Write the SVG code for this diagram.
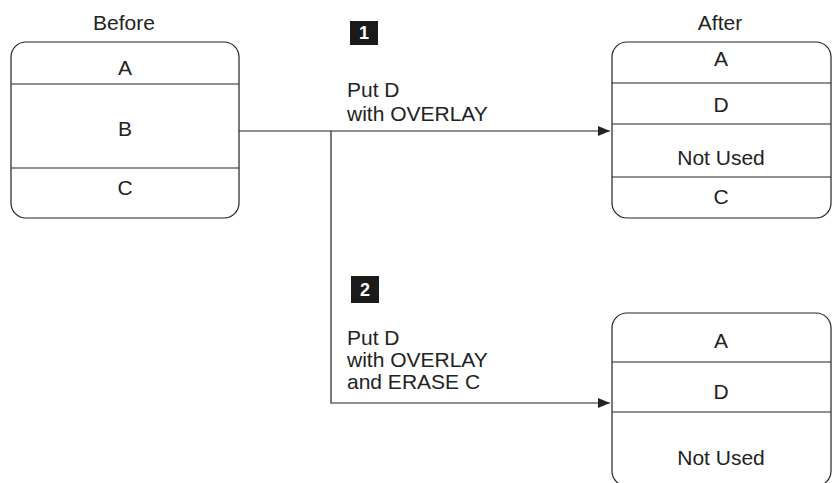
<svg xmlns="http://www.w3.org/2000/svg" width="832" height="483" viewBox="0 0 832 483">
<style>
text{font-family:"Liberation Sans",Arial,sans-serif;font-size:21px;fill:#222}
.c{text-anchor:middle}
.box{fill:#fff;stroke:#222;stroke-width:1.2}
.div{stroke:#222;stroke-width:1.2}
.con{fill:none;stroke:#222;stroke-width:1.2}
.badge{fill:#1a1a1a}
.bt{fill:#fff;font-weight:bold;font-size:18px;text-anchor:middle}
</style>
<defs>
<marker id="arr" viewBox="0 0 12 10" refX="12" refY="5" markerWidth="12" markerHeight="10" markerUnits="userSpaceOnUse" orient="auto">
<path d="M0,0 L12,5 L0,10 Z" fill="#222"/>
</marker>
</defs>
<g id="connectors">
<path class="con" d="M239,131 H610" marker-end="url(#arr)"/>
<path class="con" d="M331,131 V403 H610" marker-end="url(#arr)"/>
</g>
<g id="before">
<text class="c" x="124" y="30">Before</text>
<rect class="box" x="11" y="42" width="228" height="176" rx="15"/>
<line class="div" x1="11" y1="84" x2="239" y2="84"/>
<line class="div" x1="11" y1="168" x2="239" y2="168"/>
<text class="c" x="125" y="75">A</text>
<text class="c" x="125" y="136">B</text>
<text class="c" x="125" y="195">C</text>
</g>
<g id="after1">
<text class="c" x="720" y="30">After</text>
<rect class="box" x="612" y="42" width="219" height="176" rx="15"/>
<line class="div" x1="612" y1="83" x2="831" y2="83"/>
<line class="div" x1="612" y1="124" x2="831" y2="124"/>
<line class="div" x1="612" y1="177" x2="831" y2="177"/>
<text class="c" x="721" y="66">A</text>
<text class="c" x="721" y="112">D</text>
<text class="c" x="721" y="165">Not Used</text>
<text class="c" x="721" y="204">C</text>
</g>
<g id="after2">
<rect class="box" x="612" y="313" width="219" height="173" rx="15"/>
<line class="div" x1="612" y1="362" x2="831" y2="362"/>
<line class="div" x1="612" y1="412" x2="831" y2="412"/>
<text class="c" x="721" y="348">A</text>
<text class="c" x="721" y="399">D</text>
<text class="c" x="721" y="465">Not Used</text>
</g>
<g id="label1">
<rect class="badge" x="350" y="21" width="28" height="24"/>
<text class="bt" x="364" y="39">1</text>
<text x="347" y="97">Put D</text>
<text x="347" y="121">with OVERLAY</text>
</g>
<g id="label2">
<rect class="badge" x="351" y="276" width="28" height="27"/>
<text class="bt" x="365" y="296">2</text>
<text x="347" y="345">Put D</text>
<text x="347" y="367">with OVERLAY</text>
<text x="347" y="389">and ERASE C</text>
</g>
</svg>
